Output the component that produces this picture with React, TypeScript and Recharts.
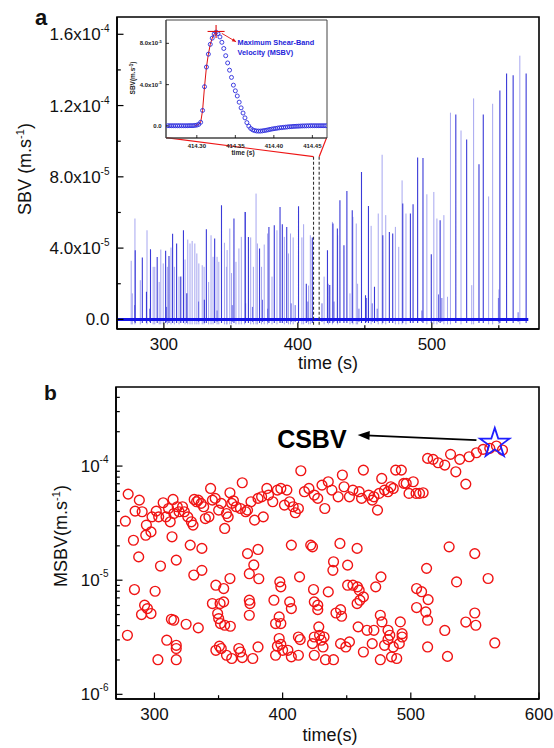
import React from 'react';
import { ComposedChart, Line, Scatter, XAxis, YAxis, ReferenceLine, ReferenceArea } from 'recharts';

const FONT = '"Liberation Sans", Arial, Helvetica, sans-serif';

// ---------------- Panel a : shear-band velocity spikes ----------------
const darkSpikeTime = [278.6, 283.9, 287.0, 290.0, 295.0, 301.3, 303.8, 306.5, 309.5, 312.6, 314.6, 317.1, 330.2, 331.7, 337.9, 343.0, 352.3, 360.8, 363.1, 371.4, 378.4, 382.4, 386.7, 388.4, 391.7, 400.5, 406.3, 410.8, 422.1, 423.8, 426.2, 429.5, 431.4, 434.4, 436.6, 440.6, 447.5, 450.5, 452.7, 457.2, 463.4, 468.3, 470.8, 478.3, 484.0, 486.0, 489.4, 493.4, 499.6, 506.2, 517.9, 526.0, 535.2, 538.4, 550.8, 555.8, 560.7, 570.4];
const darkSpikeValue = [3.88e-5, 3.47e-5, 1.55e-5, 3.94e-5, 3.5e-5, 3.85e-5, 3.55e-5, 4.8e-5, 4.26e-5, 2.4e-5, 5.0e-5, 1.46e-5, 1.1e-5, 5.06e-5, 4.54e-5, 6.4e-5, 5.66e-5, 6.03e-5, 4.63e-5, 3.98e-5, 5.19e-5, 5.28e-5, 6.31e-5, 5.34e-5, 5.19e-5, 6.35e-5, 2.0e-5, 4.6e-5, 3.88e-5, 1.93e-5, 5.38e-5, 5.1e-5, 6.69e-5, 4.16e-5, 7.2e-5, 6.12e-5, 8.27e-5, 1.36e-5, 6.37e-5, 1.83e-5, 4.72e-5, 4.91e-5, 4.82e-5, 6.5e-5, 5.94e-5, 6.46e-5, 9.08e-5, 9.06e-5, 3.66e-5, 5.57e-5, 1.15e-4, 1.01e-4, 8.7e-5, 1.15e-4, 1.285e-4, 1.38e-4, 1.37e-4, 1.38e-4];
const lightSpikeTime = [275.6, 276.4, 278.4, 282.4, 287.4, 292.0, 293.2, 296.5, 297.7, 299.5, 302.6, 305.3, 307.8, 311.3, 315.8, 317.8, 319.5, 321.1, 323.1, 324.6, 326.1, 328.6, 330.0, 333.4, 335.2, 336.7, 339.7, 341.0, 345.2, 346.7, 347.2, 349.2, 350.5, 353.8, 356.0, 357.8, 360.3, 364.8, 366.8, 368.8, 369.8, 372.9, 374.9, 377.4, 380.7, 384.4, 389.9, 393.0, 394.5, 396.5, 403.0, 404.3, 408.0, 409.3, 419.6, 422.8, 425.8, 429.7, 438.9, 441.1, 443.6, 444.6, 454.7, 460.0, 462.9, 465.6, 472.8, 475.3, 477.8, 480.7, 496.3, 501.5, 503.8, 509.0, 511.7, 513.9, 521.8, 529.8, 531.2, 542.4, 545.4, 550.1, 565.7];
const lightSpikeValue = [3.29e-5, 1.46e-5, 5.66e-5, 2.2e-5, 5.0e-5, 2.95e-5, 2.95e-5, 2.1e-5, 3.92e-5, 3.14e-5, 2.95e-5, 4.03e-5, 2.95e-5, 2.4e-5, 3.36e-5, 4.48e-5, 4.26e-5, 4.4e-5, 4.26e-5, 3.7e-5, 3.14e-5, 3.04e-5, 2.95e-5, 2.1e-5, 4.72e-5, 3.51e-5, 3.51e-5, 3.23e-5, 4.3e-5, 2.95e-5, 3.89e-5, 5.1e-5, 2.6e-5, 3.23e-5, 3.98e-5, 4.63e-5, 6.03e-5, 4.6e-5, 2.95e-5, 7.06e-5, 4.26e-5, 2.95e-5, 4.2e-5, 4.82e-5, 2.4e-5, 5.0e-5, 4.63e-5, 3.7e-5, 4.82e-5, 4.6e-5, 4.6e-5, 5.34e-5, 1.9e-5, 4.72e-5, 2.4e-5, 2.0e-5, 5.47e-5, 4.72e-5, 1.46e-5, 5.75e-5, 5.38e-5, 2.0e-5, 5.25e-5, 5.94e-5, 9.24e-5, 5.85e-5, 5.19e-5, 4.07e-5, 7.8e-5, 5.94e-5, 7.02e-5, 7.15e-5, 5.66e-5, 5.85e-5, 1.27e-5, 1.16e-4, 1.06e-4, 1.92e-5, 1.24e-4, 6.9e-5, 1.21e-4, 1.68e-5, 1.48e-4];
const noiseSpikeTime = [278.1, 289.4, 302.0, 325.9, 339.7, 351.0, 361.0, 366.1, 373.6, 377.4, 395.0, 398.0, 407.5, 418.0, 427.0, 445.6, 451.3, 455.5, 459.2, 492.6, 505.0, 507.5, 549.7, 564.4];
const noiseSpikeValue = [0.8e-5, 0.6e-5, 0.7e-5, 1.0e-5, 0.5e-5, 0.8e-5, 0.9e-5, 0.7e-5, 1.1e-5, 0.6e-5, 0.9e-5, 0.8e-5, 1.0e-5, 0.9e-5, 1.0e-5, 0.6e-5, 1.2e-5, 0.9e-5, 0.6e-5, 0.5e-5, 1.4e-5, 1.2e-5, 1.2e-5, 0.4e-5];
const baselineTime = [265, 572];
const baselineValue = [0, 0];

const xTicksA = [300, 350, 400, 450, 500, 550];
const xMajorA = [300, 400, 500];
const yTicksA = [0, 2e-5, 4e-5, 6e-5, 8e-5, 1e-4, 1.2e-4, 1.4e-4, 1.6e-4];
const yMajorA = [0, 4e-5, 8e-5, 1.2e-4, 1.6e-4];
const yMantissaA = ['0.0', '4.0x10', '8.0x10', '1.2x10', '1.6x10'];
const yExponentA = ['', '-5', '-5', '-4', '-4'];

// zoom window marking the inset
const zoomWindowTime = [411.7, 415.9];
const zoomWindowTop = 9.13e-5;
const zoomWindowBottom = -3e-6;
const insetCornerTime = [301.6, 421.5];
const insetCornerValue = 1.02e-4;

// ---------------- Inset : single pulse ----------------
const insetTime = [414.2625, 414.265, 414.2675, 414.27, 414.2725, 414.275, 414.2775, 414.28, 414.2825, 414.285, 414.2875, 414.29, 414.2925, 414.295, 414.2975, 414.3, 414.3025, 414.305, 414.3075, 414.31, 414.3125, 414.315, 414.3175, 414.32, 414.3225, 414.325, 414.3275, 414.33, 414.3325, 414.335, 414.3375, 414.34, 414.3425, 414.345, 414.3475, 414.35, 414.3525, 414.355, 414.3575, 414.36, 414.3625, 414.365, 414.3675, 414.37, 414.3725, 414.375, 414.3775, 414.38, 414.3825, 414.385, 414.3875, 414.39, 414.3925, 414.395, 414.3975, 414.4, 414.4025, 414.405, 414.4075, 414.41, 414.4125, 414.415, 414.4175, 414.42, 414.4225, 414.425, 414.4275, 414.43, 414.4325, 414.435, 414.4375, 414.44, 414.4425, 414.445, 414.4475, 414.45, 414.4525, 414.455, 414.4575, 414.46, 414.4625, 414.465, 414.4675];
const insetValue = [0.02e-5, 0.02e-5, 0.02e-5, 0.02e-5, 0.02e-5, 0.02e-5, 0.02e-5, 0.02e-5, 0.02e-5, 0.02e-5, 0.02e-5, 0.03e-5, 0.03e-5, 0.03e-5, 0.05e-5, 0.08e-5, 0.15e-5, 0.35e-5, 1.5e-5, 3.8e-5, 5.7e-5, 6.95e-5, 7.9e-5, 8.5e-5, 8.9e-5, 9.08e-5, 8.95e-5, 8.62e-5, 8.1e-5, 7.5e-5, 6.8e-5, 6.1e-5, 5.4e-5, 4.7e-5, 3.95e-5, 3.4e-5, 2.9e-5, 2.3e-5, 1.75e-5, 1.25e-5, 0.78e-5, 0.32e-5, -0.02e-5, -0.25e-5, -0.38e-5, -0.45e-5, -0.49e-5, -0.5e-5, -0.5e-5, -0.48e-5, -0.45e-5, -0.42e-5, -0.38e-5, -0.34e-5, -0.3e-5, -0.27e-5, -0.24e-5, -0.21e-5, -0.18e-5, -0.16e-5, -0.14e-5, -0.12e-5, -0.1e-5, -0.08e-5, -0.07e-5, -0.05e-5, -0.04e-5, -0.03e-5, -0.02e-5, -0.01e-5, 0, 0, 0.01e-5, 0.01e-5, 0.02e-5, 0.02e-5, 0.02e-5, 0.02e-5, 0.02e-5, 0.02e-5, 0.02e-5, 0.02e-5, 0.02e-5];
const riseStart = 414.2975;
const riseEnd = 414.325;
const peakTime = [414.325];
const peakValue = [9.15e-5];
const peakArrowTime = [414.3324, 414.351];
const peakArrowValue = [8.97e-5, 8.15e-5];
const insetXTicks = [414.3, 414.35, 414.4, 414.45];
const insetYTicks = [0, 4e-5, 8e-5];
const insetYMantissa = ['0.0', '4.0x10', '8.0x10'];
const insetYExponent = ['', '-5', '-5'];

// ---------------- Panel b : maximum shear-band velocity ----------------
const upperBandTime = [277.3, 279.5, 283.6, 284.9, 288.2, 290.4, 293.2, 293.7, 297.3, 298.1, 301.4, 303.3, 306.8, 309.0, 311.0, 312.3, 314.5, 315.1, 317.8, 319.2, 321.9, 323.3, 326.0, 328.8, 330.1, 331.0, 332.9, 334.2, 336.4, 338.4, 339.7, 342.5, 343.8, 345.2, 347.4, 350.1, 352.1, 354.8, 356.2, 357.5, 358.9, 360.3, 361.6, 363.8, 367.1, 368.5, 371.2, 372.6, 375.3, 378.1, 380.8, 383.6, 384.9, 387.7, 389.0, 392.3, 395.9, 398.6, 401.4, 403.3, 405.5, 408.2, 409.9, 412.3, 414.2, 417.0, 420.5, 424.7, 427.4, 430.7, 432.9, 435.6, 438.4, 443.3, 446.6, 447.9, 452.1, 454.8, 459.7, 461.6, 463.0, 467.1, 469.9, 471.2, 474.0, 475.3, 477.3, 479.5, 482.2, 484.4, 486.3, 488.2, 492.6, 494.5, 496.4, 498.6, 501.9, 504.1, 506.8, 509.6];
const upperBandValue = [3.29e-5, 5.68e-5, 2.24e-5, 4.03e-5, 5.03e-5, 3.98e-5, 2.48e-5, 3.04e-5, 2.65e-5, 3.59e-5, 4.03e-5, 3.59e-5, 4.77e-5, 3.59e-5, 4.25e-5, 3.25e-5, 5.1e-5, 3.84e-5, 4.4e-5, 3.98e-5, 4.4e-5, 3.98e-5, 3.59e-5, 3.25e-5, 3.04e-5, 5.1e-5, 4.87e-5, 5.03e-5, 4.71e-5, 4.4e-5, 3.47e-5, 3.59e-5, 6.37e-5, 5.03e-5, 5.21e-5, 4.11e-5, 4.71e-5, 2.84e-5, 3.84e-5, 3.59e-5, 5.84e-5, 4.71e-5, 4.96e-5, 4.4e-5, 4.25e-5, 7.14e-5, 3.98e-5, 4.11e-5, 4.87e-5, 3.36e-5, 5.21e-5, 5.38e-5, 3.59e-5, 6.37e-5, 5.57e-5, 4.87e-5, 6.16e-5, 6.37e-5, 4.55e-5, 6.16e-5, 4.87e-5, 4.4e-5, 3.9e-5, 4.25e-5, 9.1e-5, 5.96e-5, 6.37e-5, 5.57e-5, 5.21e-5, 6.81e-5, 4.25e-5, 7.29e-5, 6.16e-5, 5.38e-5, 8.34e-5, 6.59e-5, 5.38e-5, 6.16e-5, 5.96e-5, 5.21e-5, 9.22e-5, 5.57e-5, 5.03e-5, 5.38e-5, 4.11e-5, 5.76e-5, 7.79e-5, 6.16e-5, 5.96e-5, 6.59e-5, 6.37e-5, 9.22e-5, 9.22e-5, 7.05e-5, 7.05e-5, 5.76e-5, 7.29e-5, 5.76e-5, 5.76e-5, 5.84e-5];
const highBandTime = [513.1, 517.4, 521.3, 526.5, 531.0, 535.1, 538.2, 542.9, 545.5, 551.2, 556.4, 561.6, 566.8, 571.5];
const highBandValue = [1.168e-4, 1.145e-4, 1.069e-4, 1.02e-4, 1.267e-4, 8.91e-5, 1.145e-4, 6.95e-5, 1.207e-4, 1.309e-4, 1.401e-4, 1.43e-4, 1.497e-4, 1.381e-4];
const lowerBandTime = [287.7, 284.4, 300.5, 304.7, 292.3, 294.5, 289.9, 297.3, 278.9, 302.7, 309.6, 313.7, 317.0, 315.1, 313.2, 317.0, 317.0, 317.0, 324.7, 327.9, 330.7, 334.2, 337.0, 337.0, 345.2, 347.9, 349.3, 350.1, 351.2, 351.5, 354.0, 354.0, 354.8, 358.9, 359.2, 347.9, 350.7, 352.1, 356.2, 360.3, 365.8, 367.1, 368.5, 372.6, 374.0, 377.5, 380.8, 381.4, 374.0, 374.5, 374.0, 376.7, 380.8, 393.2, 394.5, 397.3, 398.6, 397.8, 398.6, 397.3, 395.9, 394.5, 398.6, 400.0];
const lowerBandValue = [1.6e-5, 8.28e-6, 8.0e-6, 1.33e-5, 6.04e-6, 5.64e-6, 5.0e-6, 5.1e-6, 3.29e-6, 2.01e-6, 2.98e-6, 2.4e-5, 1.5e-5, 4.46e-6, 4.55e-6, 2.69e-6, 2.52e-6, 2.01e-6, 4.11e-6, 2.03e-5, 1.11e-5, 3.82e-6, 1.9e-5, 1.22e-5, 6.24e-6, 9.04e-6, 5.1e-6, 4.61e-6, 6.24e-6, 4.17e-6, 8.45e-6, 6.46e-6, 4.03e-6, 1.034e-5, 3.95e-6, 2.43e-6, 2.64e-6, 2.52e-6, 2.2e-6, 2.06e-6, 2.52e-6, 2.35e-6, 2.1e-6, 1.71e-5, 1.14e-5, 1.36e-5, 1.86e-5, 1.03e-5, 6.68e-6, 6.24e-6, 4.93e-6, 2.06e-6, 2.6e-6, 6.68e-6, 4.17e-6, 4.77e-6, 4.17e-6, 9.67e-6, 8.74e-6, 3.08e-6, 2.64e-6, 2.2e-6, 2.74e-6, 2.43e-6];
const lowerRightTime = [405.5, 406.8, 406.8, 404.1, 406.8, 413.2, 412.3, 413.7, 412.3, 421.9, 423.3, 424.1, 424.7, 427.4, 427.4, 428.2, 424.7, 423.3, 424.7, 428.8, 430.1, 431.5, 432.3, 433.4, 435.6, 439.7, 439.2, 439.7, 441.6, 445.2, 446.0, 444.7, 450.7, 445.2, 449.3, 452.1, 450.7, 454.8, 458.4, 458.1, 459.7, 458.1, 460.3, 463.0, 458.9, 463.0, 465.8, 471.2, 469.9, 472.6, 476.7, 476.2, 477.5, 476.2, 479.5, 482.2, 483.6, 482.2, 484.9, 486.3, 489.0, 491.8, 493.2, 493.2, 491.0];
const lowerRightValue = [6.46e-6, 5.64e-6, 2.03e-5, 2.43e-6, 2.13e-6, 1.07e-5, 3.18e-6, 3.02e-6, 2.2e-6, 2.03e-5, 1.96e-5, 8.28e-6, 6.46e-6, 6.04e-6, 5.52e-6, 3.9e-6, 3.18e-6, 2.78e-6, 2.2e-6, 3.29e-6, 2.98e-6, 2.6e-6, 3.18e-6, 2.01e-6, 7.9e-6, 1.45e-5, 1.22e-5, 2.01e-6, 5.16e-6, 5.52e-6, 4.83e-6, 2.1e-5, 1.355e-5, 2.78e-6, 2.6e-6, 2.88e-6, 9.04e-6, 9.04e-6, 8.74e-6, 6.24e-6, 8.18e-6, 1.9e-5, 6.68e-6, 7.14e-6, 3.9e-6, 2.35e-6, 3.64e-6, 3.64e-6, 2.78e-6, 8.74e-6, 1.07e-5, 4.93e-6, 4.31e-6, 2.01e-6, 2.69e-6, 3.64e-6, 3.29e-6, 3.02e-6, 2.13e-6, 2.6e-6, 2.06e-6, 4.31e-6, 3.18e-6, 3.4e-6, 2.78e-6];
const lateLowTime = [529.9, 549.9, 512.3, 535.7, 560.3, 504.5, 508.4, 513.5, 504.5, 511.7, 513.1, 549.9, 542.9, 550.7, 526.5, 565.5, 513.1, 528.6];
const lateLowValue = [1.96e-5, 1.71e-5, 1.27e-5, 9.66e-6, 1.035e-5, 8.45e-6, 7.93e-6, 6.76e-6, 5.76e-6, 5.27e-6, 4.46e-6, 5.16e-6, 4.3e-6, 4.03e-6, 3.63e-6, 2.82e-6, 2.6e-6, 2.15e-6];
const csbvTime = [565.5];
const csbvValue = [1.58e-4];
const csbvArrowTime = [551.2, 458.5];
const csbvArrowValue = [1.69e-4, 1.87e-4];

const xTicksB = [300, 350, 400, 450, 500, 550, 600];
const xMajorB = [300, 400, 500, 600];
const yTicksB = [1e-6, 2e-6, 3e-6, 4e-6, 5e-6, 6e-6, 7e-6, 8e-6, 9e-6, 1e-5, 2e-5, 3e-5, 4e-5, 5e-5, 6e-5, 7e-5, 8e-5, 9e-5, 1e-4, 2e-4, 3e-4, 4e-4];
const yMajorB = [1e-6, 1e-5, 1e-4];
const yMantissaB = ['10', '10', '10'];
const yExponentB = ['-6', '-5', '-4'];

// ---------------- helpers ----------------
const near = (a: number, b: number) => Math.abs(a - b) <= Math.abs(b) * 1e-6 + 1e-12;

const pairs = (ts: number[], vs: number[]) => ts.map((t, i) => ({ t, v: vs[i] }));
const spikes = (ts: number[], vs: number[], lo: number) => {
  const out: { t: number; v: number | null }[] = [];
  ts.forEach((t, i) => {
    out.push({ t, v: lo }, { t, v: vs[i] }, { t, v: null });
  });
  return out;
};

type TickOpts = { major: number; minor: number; dy: number; fs: number; sw: number; weight?: string; color?: string };

function bottomTick(majors: number[], fmt: (v: number) => string, o: TickOpts) {
  return (p: any) => {
    const v = Number(p.payload?.value);
    const isMajor = majors.some((m) => near(v, m));
    return (
      <g>
        <line x1={p.x} x2={p.x} y1={p.y} y2={p.y - (isMajor ? o.major : o.minor)} stroke="#000" strokeWidth={o.sw} />
        {isMajor ? (
          <text x={p.x} y={p.y + o.dy} textAnchor="middle" fontFamily={FONT} fontSize={o.fs} fontWeight={o.weight || 'normal'} fill={o.color || '#111'}>
            {fmt(v)}
          </text>
        ) : null}
      </g>
    );
  };
}

function leftTick(majors: number[], mant: string[], exps: string[], o: TickOpts & { gap: number; sfs: number; sdy: number }) {
  return (p: any) => {
    const v = Number(p.payload?.value);
    const idx = majors.findIndex((m) => near(v, m));
    const isMajor = idx >= 0;
    return (
      <g>
        <line x1={p.x} x2={p.x + (isMajor ? o.major : o.minor)} y1={p.y} y2={p.y} stroke="#000" strokeWidth={o.sw} />
        {isMajor ? (
          <text x={p.x - o.gap} y={p.y + o.dy} textAnchor="end" fontFamily={FONT} fontSize={o.fs} fontWeight={o.weight || 'normal'} fill={o.color || '#111'}>
            <tspan>{mant[idx]}</tspan>
            {exps[idx] ? (
              <tspan dy={o.sdy} fontSize={o.sfs}>
                {exps[idx]}
              </tspan>
            ) : null}
          </text>
        ) : null}
      </g>
    );
  };
}

const RedCircle = (p: any) => <circle cx={p.cx} cy={p.cy} r={4.9} fill="none" stroke="#f01414" strokeWidth={1.4} />;
const BlueDot = (p: any) => <circle cx={p.cx} cy={p.cy} r={2} fill="none" stroke="#2b2bdd" strokeWidth={0.9} />;

const StarShape = (p: any) => {
  const R = 15.5;
  const r = R * 0.382;
  const pts: string[] = [];
  for (let i = 0; i < 10; i++) {
    const a = -Math.PI / 2 + (i * Math.PI) / 5;
    const rad = i % 2 === 0 ? R : r;
    pts.push(`${p.cx + rad * Math.cos(a)},${p.cy + rad * Math.sin(a)}`);
  }
  return <polygon points={pts.join(' ')} fill="none" stroke="#1f1fff" strokeWidth={1.8} strokeLinejoin="miter" />;
};

const CrossShape = (p: any) => (
  <g>
    <line x1={p.cx - 8.5} x2={p.cx + 8.5} y1={p.cy} y2={p.cy} stroke="#e01010" strokeWidth={1.1} />
    <line x1={p.cx} x2={p.cx} y1={p.cy - 6.5} y2={p.cy + 6.5} stroke="#e01010" strokeWidth={1.1} />
  </g>
);

function arrowHead(x1: number, y1: number, x2: number, y2: number, len: number, half: number) {
  const dx = x2 - x1;
  const dy = y2 - y1;
  const d = Math.hypot(dx, dy) || 1;
  const ux = dx / d;
  const uy = dy / d;
  const bx = x2 - ux * len;
  const by = y2 - uy * len;
  return `${x2},${y2} ${bx - uy * half},${by + ux * half} ${bx + uy * half},${by - ux * half}`;
}

const CsbvArrow = (p: any) => {
  const { x1, y1, x2, y2 } = p;
  return (
    <g>
      <line x1={x1} y1={y1} x2={x2 + 8} y2={y2 + ((y1 - y2) * 8) / Math.max(1, x1 - x2)} stroke="#000" strokeWidth={1.8} />
      <polygon points={arrowHead(x1, y1, x2, y2, 12, 4.5)} fill="#000" />
      <text x={x2 - 11} y={y2 + 13} textAnchor="end" fontFamily={FONT} fontSize={25} fontWeight="bold" fill="#000">
        CSBV
      </text>
    </g>
  );
};

const MsbvArrow = (p: any) => {
  const { x1, y1, x2, y2 } = p;
  return (
    <g>
      <line x1={x1} y1={y1} x2={x2} y2={y2} stroke="#e01010" strokeWidth={0.9} />
      <polygon points={arrowHead(x1, y1, x2, y2, 4, 1.8)} fill="#e01010" />
      <text x={x2 + 1.5} y={y2 + 3.4} fontFamily={FONT} fontSize={7.3} fontWeight="bold" fill="#2323d9">
        Maximum Shear-Band
      </text>
      <text x={x2 + 1.5} y={y2 + 13.4} fontFamily={FONT} fontSize={7.3} fontWeight="bold" fill="#2323d9">
        Velocity (MSBV)
      </text>
    </g>
  );
};

// ---------------- derived tables ----------------
const darkData = spikes(darkSpikeTime, darkSpikeValue, -2e-6);
const lightData = spikes(lightSpikeTime, lightSpikeValue, -2.8e-6);
const noiseData = spikes(noiseSpikeTime, noiseSpikeValue, -1.5e-6);
const baselineData = pairs(baselineTime, baselineValue);
const insetData = pairs(insetTime, insetValue);
const riseData = insetData.filter((d) => d.t >= riseStart - 1e-9 && d.t <= riseEnd + 1e-9);
const peakData = pairs(peakTime, peakValue);
const msbvData = [
  ...pairs(upperBandTime, upperBandValue),
  ...pairs(highBandTime, highBandValue),
  ...pairs(lowerBandTime, lowerBandValue),
  ...pairs(lowerRightTime, lowerRightValue),
  ...pairs(lateLowTime, lateLowValue),
];
const csbvData = pairs(csbvTime, csbvValue);

const domainXA: [number, number] = [265, 580];
const domainYA: [number, number] = [-5.4e-6, 1.697e-4];
const domainXB: [number, number] = [270, 600];
const domainYB: [number, number] = [9.1e-7, 4.93e-4];
const domainXI: [number, number] = [414.26, 414.469];
const domainYI: [number, number] = [-1.17e-5, 1.026e-4];

export default function App() {
  return (
    <div style={{ position: 'absolute', left: 0, top: 0, width: 554, height: 748, background: '#fff', overflow: 'hidden' }}>
      {/* Panel a */}
      <div style={{ position: 'absolute', left: 0, top: 0 }}>
        <ComposedChart width={554} height={370} margin={{ top: 17, right: 15, bottom: 0, left: 0 }}>
          <XAxis
            type="number"
            dataKey="t"
            domain={domainXA}
            allowDataOverflow
            ticks={xTicksA}
            interval={0}
            height={41}
            tickSize={0}
            tickMargin={0}
            tickLine={false}
            axisLine={{ stroke: '#000', strokeWidth: 1.6 }}
            tick={bottomTick(xMajorA, (v) => String(v), { major: 6.5, minor: 3.8, dy: 21, fs: 17, sw: 1.2 })}
          />
          <YAxis
            type="number"
            dataKey="v"
            domain={domainYA}
            allowDataOverflow
            ticks={yTicksA}
            interval={0}
            width={117}
            tickSize={0}
            tickMargin={0}
            tickLine={false}
            axisLine={{ stroke: '#000', strokeWidth: 1.6 }}
            tick={leftTick(yMajorA, yMantissaA, yExponentA, { major: 6.5, minor: 3.8, dy: 6, fs: 17, sw: 1.2, gap: 7.5, sfs: 10, sdy: -8 })}
          />
          <ReferenceArea x1={domainXA[0]} x2={domainXA[1]} y1={domainYA[0]} y2={domainYA[1]} fill="none" stroke="#000" strokeWidth={1.6} ifOverflow="visible" />
          <Line data={lightData} dataKey="v" type="linear" stroke="#a6a6f0" strokeWidth={1} dot={false} isAnimationActive={false} connectNulls={false} />
          <Line data={noiseData} dataKey="v" type="linear" stroke="#6a6ae6" strokeWidth={1} dot={false} isAnimationActive={false} connectNulls={false} />
          <Line data={darkData} dataKey="v" type="linear" stroke="#3a3ad8" strokeWidth={1.1} dot={false} isAnimationActive={false} connectNulls={false} />
          <Line data={baselineData} dataKey="v" type="linear" stroke="#1414e6" strokeWidth={3} dot={false} isAnimationActive={false} />
          <ReferenceLine segment={[{ x: zoomWindowTime[0], y: zoomWindowTop }, { x: zoomWindowTime[0], y: zoomWindowBottom }]} stroke="#333" strokeWidth={1.1} strokeDasharray="3 2" ifOverflow="visible" />
          <ReferenceLine segment={[{ x: zoomWindowTime[1], y: zoomWindowTop }, { x: zoomWindowTime[1], y: zoomWindowBottom }]} stroke="#333" strokeWidth={1.1} strokeDasharray="3 2" ifOverflow="visible" />
          <ReferenceLine segment={[{ x: insetCornerTime[0], y: insetCornerValue }, { x: zoomWindowTime[0], y: zoomWindowTop }]} stroke="#ee1515" strokeWidth={1.2} ifOverflow="visible" />
          <ReferenceLine segment={[{ x: insetCornerTime[1], y: insetCornerValue }, { x: zoomWindowTime[1], y: zoomWindowTop }]} stroke="#ee1515" strokeWidth={1.2} ifOverflow="visible" />
        </ComposedChart>
      </div>

      {/* Inset */}
      <div style={{ position: 'absolute', left: 120, top: 0 }}>
        <ComposedChart width={220} height={170} margin={{ top: 20, right: 13, bottom: 0, left: 0 }}>
          <XAxis
            type="number"
            dataKey="t"
            domain={domainXI}
            allowDataOverflow
            ticks={insetXTicks}
            interval={0}
            height={32}
            tickSize={0}
            tickMargin={0}
            tickLine={false}
            axisLine={{ stroke: '#444', strokeWidth: 1 }}
            tick={bottomTick(insetXTicks, (v) => v.toFixed(2), { major: 3, minor: 2, dy: 9.5, fs: 6, sw: 0.8, weight: 'bold', color: '#222' })}
          />
          <YAxis
            type="number"
            dataKey="v"
            domain={domainYI}
            allowDataOverflow
            ticks={insetYTicks}
            interval={0}
            width={46}
            tickSize={0}
            tickMargin={0}
            tickLine={false}
            axisLine={{ stroke: '#444', strokeWidth: 1 }}
            tick={leftTick(insetYTicks, insetYMantissa, insetYExponent, { major: 3, minor: 2, dy: 2, fs: 6, sw: 0.8, gap: 4.3, sfs: 4, sdy: -2.5, weight: 'bold', color: '#222' })}
          />
          <ReferenceArea x1={domainXI[0]} x2={domainXI[1]} y1={domainYI[0]} y2={domainYI[1]} fill="none" stroke="#444" strokeWidth={1} ifOverflow="visible" />
          <Line data={riseData} dataKey="v" type="linear" stroke="#e01010" strokeWidth={1} dot={false} isAnimationActive={false} />
          <Scatter data={insetData} shape={BlueDot} isAnimationActive={false} />
          <Scatter data={peakData} shape={CrossShape} isAnimationActive={false} />
          <ReferenceLine segment={[{ x: peakArrowTime[0], y: peakArrowValue[0] }, { x: peakArrowTime[1], y: peakArrowValue[1] }]} shape={MsbvArrow} ifOverflow="visible" />
        </ComposedChart>
      </div>

      {/* Panel b */}
      <div style={{ position: 'absolute', left: 0, top: 370 }}>
        <ComposedChart width={554} height={378} margin={{ top: 17, right: 15, bottom: 0, left: 0 }}>
          <XAxis
            type="number"
            dataKey="t"
            domain={domainXB}
            allowDataOverflow
            ticks={xTicksB}
            interval={0}
            height={49}
            tickSize={0}
            tickMargin={0}
            tickLine={false}
            axisLine={{ stroke: '#000', strokeWidth: 1.6 }}
            tick={bottomTick(xMajorB, (v) => String(v), { major: 6.5, minor: 3.8, dy: 21, fs: 17, sw: 1.2 })}
          />
          <YAxis
            type="number"
            dataKey="v"
            scale="log"
            domain={domainYB}
            allowDataOverflow
            ticks={yTicksB}
            interval={0}
            width={116}
            tickSize={0}
            tickMargin={0}
            tickLine={false}
            axisLine={{ stroke: '#000', strokeWidth: 1.6 }}
            tick={leftTick(yMajorB, yMantissaB, yExponentB, { major: 6.5, minor: 3.8, dy: 6, fs: 17, sw: 1.2, gap: 7.5, sfs: 10, sdy: -9 })}
          />
          <ReferenceArea x1={domainXB[0]} x2={domainXB[1]} y1={domainYB[0]} y2={domainYB[1]} fill="none" stroke="#000" strokeWidth={1.6} ifOverflow="visible" />
          <Scatter data={msbvData} shape={RedCircle} isAnimationActive={false} />
          <Scatter data={csbvData} shape={StarShape} isAnimationActive={false} />
          <ReferenceLine segment={[{ x: csbvArrowTime[0], y: csbvArrowValue[0] }, { x: csbvArrowTime[1], y: csbvArrowValue[1] }]} shape={CsbvArrow} ifOverflow="visible" />
        </ComposedChart>
      </div>

      {/* Titles */}
      <svg width={554} height={748} style={{ position: 'absolute', left: 0, top: 0, pointerEvents: 'none' }}>
        <g fontFamily={FONT} fill="#111">
          <text x={35} y={25} fontSize={22} fontWeight="bold">a</text>
          <text transform="translate(31,169) rotate(-90)" textAnchor="middle" fontSize={18}>
            SBV (m.s<tspan dy={-7} fontSize={11}>-1</tspan>
            <tspan dy={7}>)</tspan>
          </text>
          <text x={328} y={369} textAnchor="middle" fontSize={18}>time (s)</text>
          <text transform="translate(135,78) rotate(-90)" textAnchor="middle" fontSize={6.5} fontWeight="bold" fill="#222">
            SBV(m.s<tspan dy={-2.5} fontSize={4.5}>-1</tspan>
            <tspan dy={2.5}>)</tspan>
          </text>
          <text x={243} y={155} textAnchor="middle" fontSize={6.5} fontWeight="bold" fill="#222">time (s)</text>
          <text x={44} y={400} fontSize={21} fontWeight="bold">b</text>
          <text transform="translate(67,536) rotate(-90)" textAnchor="middle" fontSize={18}>
            MSBV(m.s<tspan dy={-7} fontSize={11}>-1</tspan>
            <tspan dy={7}>)</tspan>
          </text>
          <text x={330} y={741} textAnchor="middle" fontSize={18}>time(s)</text>
        </g>
      </svg>
    </div>
  );
}
